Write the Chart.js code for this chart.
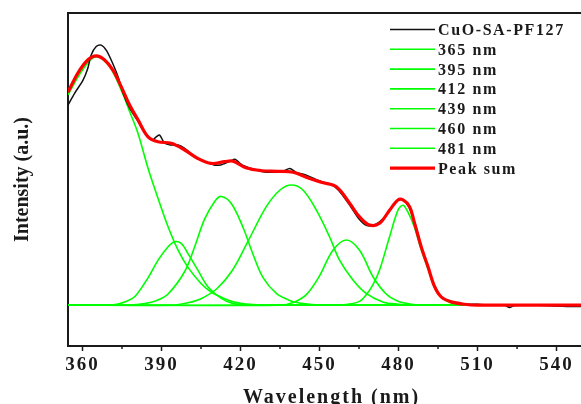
<!DOCTYPE html>
<html>
<head>
<meta charset="utf-8">
<title>CuO-SA-PF127 deconvolution</title>
<script src="https://cdn.jsdelivr.net/npm/chart.js@4"></script>
<style>
  html, body { margin: 0; padding: 0; overflow: hidden; background: #fff; }
  #wrap { width: 600px; height: 410px; }
</style>
</head>
<body>
<div id="wrap"><canvas id="graf"></canvas></div>
<script>
// measured spectrum
const measuredX = [354.5, 357, 360.2, 362, 363.3, 365.2, 367.1, 369, 370.9, 373.5, 375.4, 377.9, 381, 384, 386.5, 388, 389.3, 391.2, 393.7, 396.3, 398.8, 402.6, 406.4, 410.2, 412.5, 414, 416, 417.9, 419.5, 421, 425, 430, 436, 438.7, 441, 445, 450, 455, 458, 462, 465, 468, 471, 474, 477, 480, 482, 484, 486, 487.5, 489, 491, 493, 495, 497, 500, 503, 506, 510, 515, 520, 522.3, 524, 530, 540, 545, 548, 552, 554.6];
const measuredY = [68.5, 72.5, 77, 81, 85.6, 88.5, 89, 87.3, 83.9, 78.2, 72.5, 67.4, 63, 58.5, 56.5, 57.6, 58.2, 55.4, 54.8, 54.8, 53.7, 50.8, 49.1, 47.9, 48, 48.5, 49.2, 49.9, 48.8, 47.8, 46.5, 45.5, 45.8, 46.8, 45.5, 44.5, 42.5, 41, 38.5, 33.5, 29.5, 27.2, 27.5, 29.5, 32.8, 36.2, 36, 33.5, 28.5, 24, 19, 13.5, 8, 4.5, 2.2, 1.2, 0.5, 0.3, 0.3, 0, 0, -0.8, -0.1, 0, -0.3, -0.5, -0.5, -0.3, -0.2];

// cumulative fit
const sumX = [354.5, 358.3, 362, 365.2, 368.4, 371.5, 374.7, 377.9, 381.1, 384.9, 388.7, 393.7, 398.8, 403.8, 408.9, 414, 417.1, 422, 428, 434, 440, 446, 451, 456.4, 461.5, 465.2, 469, 472.8, 476.6, 479.8, 481.7, 484.2, 486.1, 488.6, 491.2, 493.7, 496.2, 500, 505, 510, 554.6];
const sumY = [72.9, 79.5, 83.9, 85.3, 83.9, 80.5, 74.8, 68.5, 63.4, 57.6, 55.9, 55.4, 53.1, 50.2, 48.5, 49.1, 49.3, 47, 46, 45.8, 45.5, 43.4, 42, 40.5, 34.8, 30.2, 27.4, 28, 32.5, 36, 36, 33.7, 28, 20, 13.1, 6.3, 2.8, 1.1, 0.3, 0, 0];

// gaussian components
const c365X = [354.5, 360, 365, 370, 375, 378, 381, 385, 388.7, 392.5, 396.3, 400, 405, 409, 414, 417, 422, 430, 554.6];
const c365Y = [72, 80.5, 85, 82, 73, 66, 59, 46.5, 36.5, 26.8, 18.8, 13, 7.4, 4.4, 2.2, 1.2, 0.4, 0, 0];
const c395X = [354.5, 370, 373.5, 377, 380, 385, 388.7, 392.5, 395, 397.5, 400, 403.8, 407.6, 412.7, 417, 422, 428, 554.6];
const c395Y = [0, 0, 0.4, 1.4, 3, 9.5, 15.4, 20, 21.7, 21.1, 17.7, 12, 6.3, 2.3, 0.6, 0.1, 0, 0];
const c412X = [354.5, 378, 383.6, 388, 392.5, 398.8, 402.6, 406.4, 410.2, 412.7, 416.5, 421, 424.7, 428.5, 433.6, 438.7, 443.8, 450, 554.6];
const c412Y = [0, 0, 0.5, 1.5, 3.8, 11.5, 20, 29.5, 35.5, 37.2, 34.8, 26.5, 17.5, 9.5, 4, 1.6, 0.5, 0, 0];
const c439X = [354.5, 394, 400, 405, 411, 417, 423.5, 429.8, 435, 439.3, 443.7, 448.8, 453.8, 457.6, 462.7, 467.7, 474, 480, 486, 554.6];
const c439Y = [0, 0, 0.8, 2.2, 5.6, 12, 23, 33.7, 39.4, 41.1, 39.4, 32.5, 23.4, 15.4, 8.6, 4, 1.1, 0.3, 0, 0];
const c460X = [354.5, 435, 440, 445, 450, 455.1, 460.2, 465.2, 470.3, 475.3, 479.8, 485, 490, 554.6];
const c460Y = [0, 0, 0.9, 3.6, 10, 18.8, 22.3, 18.8, 9.7, 3.8, 1.3, 0.3, 0, 0];
const c481X = [354.5, 455, 460, 465, 467.7, 470.3, 472.8, 476.6, 479.8, 481.7, 483.6, 486.1, 488.6, 491.2, 493.7, 496.2, 500, 505, 510, 554.6];
const c481Y = [0, 0, 0.2, 1.2, 3.5, 7, 12, 23.4, 32.5, 34.2, 31.8, 26.5, 19, 12.3, 6, 2.6, 0.7, 0.1, 0, 0];

const seriesLabels = ['CuO-SA-PF127', '365 nm', '395 nm', '412 nm', '439 nm', '460 nm', '481 nm', 'Peak sum'];
const xTicks = [360, 390, 420, 450, 480, 510, 540];
const xMinor = [375, 405, 435, 465, 495, 525];

const serif = 'Liberation Serif, Times New Roman, serif';
const ink = '#1a1a1a';
const green = '#00ff00';

function pts(xs, ys) {
  return xs.map((x, i) => ({ x: x, y: ys[i] }));
}

function fitLine(label, xs, ys) {
  return {
    label: label,
    data: pts(xs, ys),
    borderColor: green,
    borderWidth: 1.6,
    pointRadius: 0,
    tension: 0.35,
    order: 2
  };
}

// top frame line + short minor ticks under the x axis
const frame = {
  id: 'frame',
  afterDraw(chart) {
    const ctx = chart.ctx;
    const a = chart.chartArea;
    const sx = chart.scales.x;
    ctx.save();
    ctx.strokeStyle = ink;
    ctx.lineWidth = 2;
    ctx.beginPath();
    ctx.moveTo(a.left - 1, a.top);
    ctx.lineTo(a.right, a.top);
    ctx.stroke();
    ctx.lineWidth = 1.5;
    xMinor.forEach(v => {
      const px = sx.getPixelForValue(v);
      ctx.beginPath();
      ctx.moveTo(px, a.bottom);
      ctx.lineTo(px, a.bottom + 3);
      ctx.stroke();
    });
    ctx.restore();
  }
};

// legend in the upper right corner of the plot
const legendBox = {
  id: 'legendBox',
  afterDraw(chart) {
    const ctx = chart.ctx;
    ctx.save();
    ctx.letterSpacing = '1.6px';
    ctx.font = 'bold 16px ' + serif;
    ctx.fillStyle = ink;
    ctx.textBaseline = 'alphabetic';
    ctx.textAlign = 'left';
    chart.data.datasets.forEach((ds, i) => {
      const y = 35 + i * 19.8;
      ctx.strokeStyle = ds.borderColor;
      ctx.lineWidth = ds.borderWidth;
      ctx.beginPath();
      ctx.moveTo(390, y - 5.5);
      ctx.lineTo(435, y - 5.5);
      ctx.stroke();
      ctx.fillText(ds.label, 438, y);
    });
    ctx.restore();
  }
};

// wide letter spacing on the horizontal texts
const spacing = {
  id: 'spacing',
  beforeDraw(chart) {
    const ctx = chart.ctx;
    const ys = chart.scales.y;
    if (!ys._plainTitle) {
      const orig = ys.drawTitle;
      ys.drawTitle = function () {
        ctx.save();
        ctx.letterSpacing = '0px';
        orig.call(this);
        ctx.restore();
      };
      ys._plainTitle = true;
    }
    ctx.letterSpacing = '2px';
  },
  afterDraw(chart) {
    chart.ctx.letterSpacing = '0px';
  }
};

const graph = document.getElementById('graf');
new Chart(graph, {
  type: 'line',
  data: {
    datasets: [
      {
        label: seriesLabels[0],
        data: pts(measuredX, measuredY),
        borderColor: '#111111',
        borderWidth: 1.5,
        pointRadius: 0,
        tension: 0.3,
        order: 1
      },
      fitLine(seriesLabels[1], c365X, c365Y),
      fitLine(seriesLabels[2], c395X, c395Y),
      fitLine(seriesLabels[3], c412X, c412Y),
      fitLine(seriesLabels[4], c439X, c439Y),
      fitLine(seriesLabels[5], c460X, c460Y),
      fitLine(seriesLabels[6], c481X, c481Y),
      {
        label: seriesLabels[7],
        data: pts(sumX, sumY),
        borderColor: '#ff0000',
        borderWidth: 3.2,
        pointRadius: 0,
        tension: 0.35,
        order: 0
      }
    ]
  },
  options: {
    responsive: true,
    maintainAspectRatio: false,
    animation: false,
    devicePixelRatio: 1,
    layout: { padding: { top: 13, right: 5, left: 0, bottom: 0 } },
    plugins: {
      legend: { display: false },
      tooltip: { enabled: false }
    },
    scales: {
      x: {
        type: 'linear',
        min: 354.5,
        max: 554.6,
        afterBuildTicks: s => { s.ticks = xTicks.map(v => ({ value: v })); },
        afterFit: s => { s.height = 64; },
        grid: { drawOnChartArea: false, drawTicks: true, tickLength: 5, tickColor: ink, tickWidth: 1.5 },
        border: { display: true, color: ink, width: 2 },
        ticks: {
          color: ink,
          padding: 3,
          maxRotation: 0,
          font: { family: serif, size: 19, weight: 'bold' }
        },
        title: {
          display: true,
          text: 'Wavelength (nm)',
          color: ink,
          padding: { top: 1, bottom: 0 },
          font: { family: serif, size: 20, weight: 'bold' }
        }
      },
      y: {
        min: -14,
        max: 100,
        afterFit: s => { s.width = 68; },
        grid: { display: false },
        border: { display: true, color: ink, width: 2 },
        ticks: { display: false },
        title: {
          display: true,
          text: 'Intensity (a.u.)',
          color: ink,
          padding: { top: 10.5, bottom: 0 },
          font: { family: serif, size: 20, weight: 'bold' }
        }
      }
    }
  },
  plugins: [spacing, frame, legendBox]
});
</script>
</body>
</html>
